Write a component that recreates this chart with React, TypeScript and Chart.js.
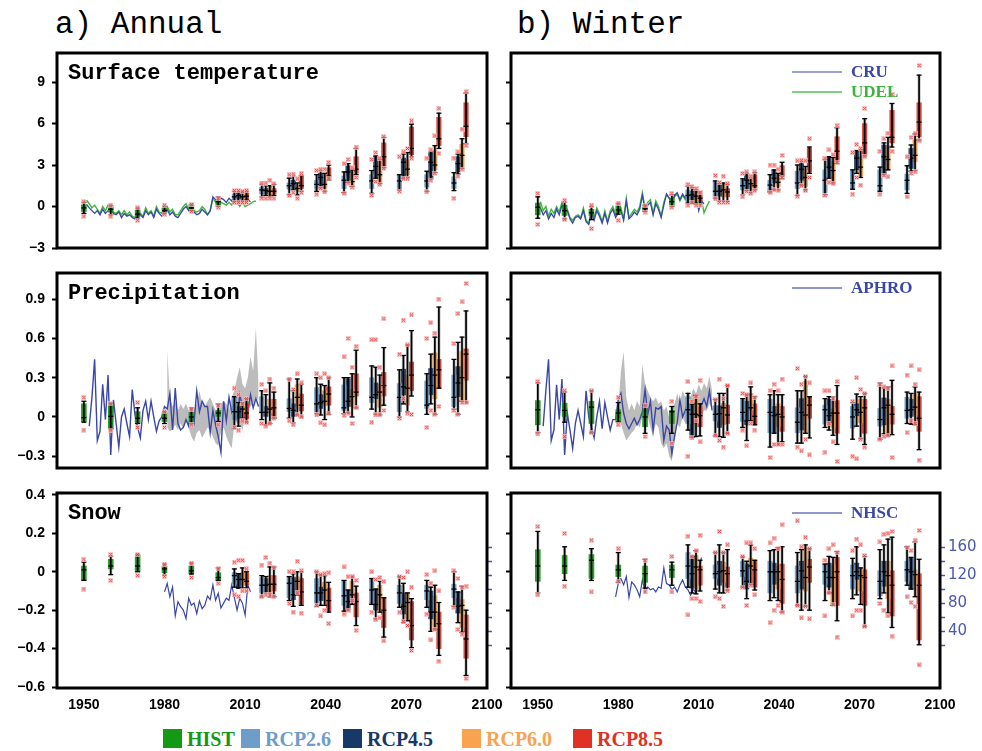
import React, { useEffect, useRef } from "react";
import { Chart, registerables } from "chart.js";

Chart.register(...registerables);

// ---------------- axes ----------------
const X_MIN = 1940;
const X_MAX = 2100;
const X_TICKS = [1950, 1980, 2010, 2040, 2070, 2100];
const X_LABELS = ["1950", "1980", "2010", "2040", "2070", "2100"];

const TEMP_RANGE = [-3, 11.1];
const TEMP_TICKS = [-3, 0, 3, 6, 9];
const TEMP_LABELS = ["\u22123", "0", "3", "6", "9"];
const PR_RANGE = [-0.39, 1.1];
const PR_TICKS = [-0.3, 0, 0.3, 0.6, 0.9];
const PR_LABELS = ["\u22120.3", "0", "0.3", "0.6", "0.9"];
const SNOW_RANGE = [-0.605, 0.41];
const SNOW_TICKS = [-0.6, -0.4, -0.2, 0, 0.2, 0.4];
const SNOW_LABELS = ["\u22120.6", "\u22120.4", "\u22120.2", "0", "0.2", "0.4"];
const NHSC_RANGE = [-41, 237];
const NHSC_TICKS = [20, 40, 60, 80, 100, 120, 140, 160];
const NHSC_LABELS = ["", "40", "", "80", "", "120", "", "160"];

// ---------------- series ----------------
const SERIES = ["HIST", "RCP2.6", "RCP4.5", "RCP6.0", "RCP8.5"];
const SERIES_COLORS = ["#139913", "#6f9dca", "#173968", "#f9a24f", "#df3225"];
const HIST_YEARS = [1950, 1960, 1970, 1980, 1990, 2000];
const RCP_YEARS = [2006, 2016.2, 2026.4, 2036.6, 2046.8, 2057.1, 2067.4, 2077.6, 2087.7];
const RCP_SHIFT = [0, 1.5, 3, 4.5];

// box = [low whisker, q1, median, q3, high whisker, low outlier, high outlier]
// ---- a) annual surface temperature
const TAS_ANN_HIST = [
  [-0.5, -0.36, -0.1, 0.12, 0.3, -0.7, 0.35],
  [-0.6, -0.4, -0.2, 0.0, 0.07, -0.7, 0.1],
  [-0.85, -0.72, -0.55, -0.25, -0.12, -1.0, -0.1],
  [-0.5, -0.45, -0.3, -0.1, 0.0, -0.55, 0.1],
  [-0.3, -0.2, -0.1, 0.1, 0.15, -0.35, 0.15],
  [0.0, 0.1, 0.35, 0.5, 0.7, -0.05, 0.6],
];
const TAS_ANN_26 = [
  [0.35, 0.5, 0.7, 0.9, 1.1, 0.3, 1.15],
  [0.7, 0.9, 1.2, 1.4, 1.6, 0.6, 1.7],
  [0.85, 1.25, 1.5, 1.7, 2.05, 0.8, 2.3],
  [1.1, 1.25, 1.6, 1.9, 2.3, 0.9, 2.6],
  [1.0, 1.3, 1.9, 2.2, 2.5, 0.95, 3.1],
  [0.95, 1.3, 1.85, 2.3, 2.6, 0.8, 3.4],
  [1.2, 1.3, 1.85, 2.25, 2.3, 1.1, 3.6],
  [1.1, 1.4, 1.85, 2.3, 2.55, 1.05, 3.5],
  [1.15, 1.3, 1.7, 2.15, 2.45, 0.6, 3.5],
];
const TAS_ANN_45 = [
  [0.4, 0.55, 0.8, 1.0, 1.1, 0.3, 1.15],
  [0.8, 0.9, 1.15, 1.3, 1.5, 0.6, 1.7],
  [1.2, 1.3, 1.65, 1.9, 2.2, 1.0, 2.35],
  [1.35, 1.45, 2.1, 2.4, 2.6, 1.3, 2.7],
  [1.75, 1.9, 2.5, 2.95, 3.1, 1.7, 3.4],
  [2.05, 2.1, 2.9, 3.6, 3.65, 1.8, 3.9],
  [2.05, 2.15, 3.2, 3.5, 3.8, 2.0, 3.95],
  [2.0, 2.1, 3.2, 3.85, 3.95, 1.9, 4.1],
  [2.35, 2.5, 3.1, 3.6, 3.8, 2.2, 3.95],
];
const TAS_ANN_60 = [
  [0.4, 0.5, 0.7, 0.95, 1.05, 0.3, 1.1],
  [0.7, 0.8, 1.1, 1.4, 1.5, 0.6, 1.9],
  [0.85, 1.1, 1.3, 1.5, 1.7, 0.6, 2.0],
  [1.1, 1.3, 1.6, 2.3, 2.4, 1.05, 2.7],
  [1.45, 1.45, 1.8, 2.45, 2.65, 1.4, 2.8],
  [1.65, 1.7, 2.3, 3.25, 3.4, 1.6, 3.5],
  [2.1, 2.3, 2.7, 3.4, 3.9, 2.0, 4.2],
  [2.45, 2.65, 3.0, 4.1, 4.4, 2.4, 5.1],
  [2.75, 2.85, 3.7, 4.5, 4.9, 2.7, 5.6],
];
const TAS_ANN_85 = [
  [0.45, 0.5, 0.75, 1.0, 1.1, 0.3, 1.15],
  [0.8, 0.9, 1.1, 1.3, 1.6, 0.6, 1.65],
  [1.1, 1.3, 1.5, 2.2, 2.25, 1.0, 2.4],
  [1.9, 1.95, 2.2, 2.8, 3.0, 2.0, 3.2],
  [2.3, 2.4, 2.7, 3.6, 4.2, 2.1, 4.3],
  [2.8, 2.9, 3.6, 4.6, 5.0, 2.75, 5.05],
  [3.6, 3.75, 4.2, 5.75, 5.95, 3.5, 6.2],
  [4.2, 4.4, 4.9, 6.45, 6.75, 3.85, 7.1],
  [4.55, 5.05, 5.8, 7.5, 8.2, 4.4, 8.3],
];
// ---- b) winter surface temperature
const TAS_DJF_HIST = [
  [-0.85, -0.6, -0.05, 0.25, 0.7, -1.3, 0.95],
  [-0.9, -0.65, -0.3, 0.1, 0.3, -0.95, 0.45],
  [-0.95, -0.65, -0.45, -0.2, 0.0, -1.6, 0.1],
  [-0.55, -0.45, -0.25, 0.05, 0.2, -1.0, 0.25],
  [-0.35, -0.25, -0.15, 0.0, 0.1, -0.4, 0.05],
  [0.0, 0.1, 0.35, 0.6, 0.85, -0.05, 0.95],
];
const TAS_DJF_26 = [
  [0.25, 0.35, 0.8, 1.2, 1.45, 0.1, 1.6],
  [0.6, 0.7, 1.1, 1.8, 1.85, 0.55, 2.25],
  [0.85, 1.2, 1.5, 1.9, 2.0, 0.7, 2.4],
  [1.05, 1.1, 1.55, 1.9, 2.3, 1.0, 3.0],
  [0.8, 1.3, 1.7, 2.55, 3.0, 0.75, 3.3],
  [0.85, 1.0, 1.9, 2.65, 3.4, 0.8, 3.5],
  [1.25, 1.25, 1.7, 2.6, 2.65, 0.9, 3.9],
  [1.1, 1.15, 1.5, 2.65, 2.85, 0.9, 4.0],
  [0.95, 1.2, 1.9, 2.35, 2.95, 0.7, 3.6],
];
const TAS_DJF_45 = [
  [0.25, 0.5, 0.85, 1.1, 1.35, 0.3, 1.45],
  [0.4, 0.75, 1.1, 1.55, 1.65, 0.3, 1.75],
  [1.15, 1.3, 1.9, 2.3, 2.4, 1.1, 2.5],
  [1.2, 1.7, 2.05, 2.6, 2.65, 1.2, 3.0],
  [1.55, 1.9, 2.7, 3.1, 3.25, 1.5, 3.35],
  [2.05, 2.1, 2.85, 3.55, 3.6, 1.75, 4.1],
  [2.4, 2.65, 3.5, 4.0, 4.05, 2.1, 4.5],
  [2.3, 2.35, 3.6, 4.45, 4.6, 2.25, 4.9],
  [2.55, 2.75, 3.5, 4.2, 4.45, 2.4, 5.0],
];
const TAS_DJF_60 = [
  [0.2, 0.35, 0.75, 1.1, 1.2, 0.1, 1.3],
  [0.4, 0.7, 1.2, 1.65, 1.7, 0.3, 2.2],
  [1.0, 1.25, 1.65, 2.0, 2.05, 0.95, 2.2],
  [1.2, 1.45, 1.75, 2.3, 2.4, 1.15, 2.7],
  [1.2, 1.45, 2.1, 2.65, 2.9, 1.15, 3.3],
  [1.7, 1.8, 2.6, 3.25, 3.55, 1.65, 3.75],
  [2.1, 2.2, 2.85, 3.6, 4.1, 1.55, 4.2],
  [2.65, 2.65, 3.4, 4.4, 5.0, 2.15, 5.3],
  [2.6, 3.25, 3.7, 4.85, 5.25, 2.5, 5.3],
];
const TAS_DJF_85 = [
  [0.2, 0.35, 0.6, 0.9, 1.05, 0.1, 1.0],
  [0.35, 0.7, 1.05, 1.3, 1.6, 0.3, 1.65],
  [1.2, 1.3, 1.5, 2.3, 2.45, 1.15, 2.5],
  [2.0, 2.15, 2.25, 2.95, 3.2, 2.1, 3.7],
  [2.4, 2.5, 3.3, 4.2, 4.3, 2.1, 4.9],
  [3.1, 3.25, 4.0, 5.05, 5.7, 3.2, 5.85],
  [3.65, 3.75, 4.6, 6.0, 6.35, 3.6, 7.1],
  [4.3, 4.6, 5.0, 6.95, 7.45, 4.0, 8.1],
  [4.8, 5.05, 6.1, 7.5, 9.5, 4.75, 10.2],
];
// ---- a) annual precipitation
const PR_ANN_HIST = [
  [-0.04, -0.035, -0.005, 0.1, 0.12, -0.1, 0.15],
  [-0.09, -0.09, 0.005, 0.105, 0.105, -0.1, 0.1],
  [-0.05, -0.05, -0.01, 0.04, 0.07, -0.08, 0.11],
  [-0.05, -0.035, -0.01, 0.03, 0.04, -0.08, 0.04],
  [-0.05, -0.05, 0.0, 0.035, 0.07, -0.06, 0.06],
  [-0.035, 0.0, 0.03, 0.05, 0.1, -0.06, 0.09],
];
const PR_ANN_26 = [
  [-0.09, -0.02, 0.04, 0.155, 0.155, -0.08, 0.22],
  [-0.02, 0.03, 0.035, 0.155, 0.2, -0.05, 0.25],
  [-0.01, 0.04, 0.065, 0.14, 0.29, -0.03, 0.29],
  [0.025, 0.04, 0.1, 0.225, 0.3, 0.015, 0.33],
  [0.025, 0.05, 0.07, 0.245, 0.3, 0.01, 0.46],
  [0.06, 0.11, 0.15, 0.3, 0.39, -0.04, 0.59],
  [0.0, 0.04, 0.15, 0.255, 0.36, -0.01, 0.48],
  [0.02, 0.065, 0.09, 0.275, 0.33, -0.08, 0.6],
  [0.06, 0.08, 0.15, 0.32, 0.44, 0.05, 0.56],
];
const PR_ANN_45 = [
  [-0.07, -0.01, 0.04, 0.08, 0.11, -0.1, 0.17],
  [-0.06, 0.0, 0.035, 0.08, 0.17, -0.07, 0.2],
  [-0.045, 0.0, 0.05, 0.1, 0.2, -0.06, 0.21],
  [0.015, 0.065, 0.11, 0.17, 0.25, -0.045, 0.3],
  [0.03, 0.08, 0.12, 0.29, 0.3, 0.03, 0.6],
  [0.02, 0.14, 0.17, 0.26, 0.38, 0.015, 0.59],
  [0.1, 0.17, 0.23, 0.365, 0.47, 0.14, 0.74],
  [0.1, 0.17, 0.24, 0.37, 0.48, 0.05, 0.72],
  [0.02, 0.155, 0.26, 0.385, 0.57, 0.02, 0.79],
];
const PR_ANN_60 = [
  [-0.01, 0.03, 0.06, 0.105, 0.11, -0.03, 0.1],
  [-0.05, 0.03, 0.06, 0.135, 0.26, -0.05, 0.29],
  [0.015, 0.08, 0.15, 0.245, 0.29, 0.015, 0.33],
  [-0.02, 0.09, 0.12, 0.2, 0.24, -0.06, 0.33],
  [0.0, 0.08, 0.155, 0.21, 0.33, -0.05, 0.38],
  [0.015, 0.075, 0.19, 0.25, 0.32, 0.015, 0.38],
  [0.04, 0.09, 0.22, 0.32, 0.55, 0.03, 0.55],
  [0.02, 0.14, 0.32, 0.49, 0.61, 0.02, 0.64],
  [0.12, 0.12, 0.3, 0.5, 0.61, 0.11, 0.88],
];
const PR_ANN_85 = [
  [-0.04, -0.015, 0.03, 0.105, 0.14, -0.04, 0.14],
  [-0.01, -0.01, 0.07, 0.135, 0.19, -0.01, 0.22],
  [0.0, 0.045, 0.09, 0.175, 0.25, 0.0, 0.26],
  [0.02, 0.09, 0.175, 0.23, 0.3, 0.03, 0.3],
  [0.07, 0.16, 0.19, 0.33, 0.51, 0.07, 0.54],
  [0.09, 0.16, 0.24, 0.34, 0.53, 0.05, 0.75],
  [0.16, 0.2, 0.32, 0.42, 0.66, 0.02, 0.78],
  [0.22, 0.22, 0.36, 0.44, 0.84, 0.08, 0.9],
  [0.11, 0.28, 0.48, 0.52, 0.81, 0.11, 1.02],
];
// ---- b) winter precipitation
const PR_DJF_HIST = [
  [-0.12, -0.06, 0.055, 0.125, 0.26, -0.13, 0.27],
  [-0.04, 0.0, 0.05, 0.105, 0.19, -0.15, 0.2],
  [-0.12, -0.05, 0.075, 0.12, 0.2, -0.12, 0.2],
  [-0.04, -0.035, 0.03, 0.055, 0.11, -0.06, 0.15],
  [-0.125, -0.075, 0.0, 0.055, 0.09, -0.15, 0.09],
  [-0.125, -0.05, 0.04, 0.05, 0.08, -0.2, 0.12],
];
const PR_DJF_26 = [
  [-0.1, -0.05, 0.055, 0.155, 0.18, -0.3, 0.27],
  [-0.145, -0.03, 0.02, 0.085, 0.135, -0.14, 0.13],
  [-0.08, -0.035, 0.035, 0.13, 0.14, -0.1, 0.18],
  [-0.23, -0.12, 0.035, 0.135, 0.17, -0.31, 0.2],
  [-0.2, -0.12, -0.04, 0.07, 0.2, -0.23, 0.37],
  [-0.08, -0.055, 0.055, 0.09, 0.14, -0.27, 0.2],
  [-0.17, -0.085, 0.0, 0.08, 0.11, -0.3, 0.12],
  [-0.17, -0.07, -0.02, 0.065, 0.26, -0.17, 0.25],
  [-0.05, -0.01, 0.05, 0.15, 0.19, -0.12, 0.32],
];
const PR_DJF_45 = [
  [-0.155, -0.155, 0.02, 0.1, 0.1, -0.16, 0.12],
  [-0.15, -0.08, 0.025, 0.085, 0.18, -0.18, 0.29],
  [-0.18, -0.06, -0.03, 0.12, 0.17, -0.22, 0.17],
  [-0.125, -0.12, 0.01, 0.08, 0.2, -0.21, 0.25],
  [-0.2, -0.1, 0.035, 0.14, 0.2, -0.26, 0.25],
  [-0.1, -0.045, 0.01, 0.135, 0.155, -0.05, 0.2],
  [-0.07, 0.01, 0.055, 0.1, 0.175, -0.32, 0.3],
  [-0.13, -0.06, 0.07, 0.145, 0.22, -0.15, 0.23],
  [-0.055, 0.0, 0.055, 0.135, 0.18, -0.03, 0.39],
];
const PR_DJF_60 = [
  [-0.15, -0.05, 0.02, 0.155, 0.165, -0.03, 0.16],
  [-0.155, -0.06, 0.07, 0.105, 0.18, -0.23, 0.14],
  [-0.03, 0.05, 0.07, 0.18, 0.23, -0.05, 0.26],
  [-0.21, -0.075, 0.02, 0.1, 0.17, -0.21, 0.2],
  [-0.125, -0.125, 0.015, 0.27, 0.31, -0.17, 0.31],
  [-0.14, -0.08, 0.03, 0.065, 0.155, -0.19, 0.14],
  [-0.165, -0.045, 0.035, 0.135, 0.155, -0.17, 0.21],
  [-0.145, -0.125, 0.09, 0.135, 0.23, -0.14, 0.22],
  [-0.06, 0.015, 0.075, 0.18, 0.23, -0.05, 0.25],
];
const PR_DJF_85 = [
  [-0.145, -0.075, 0.01, 0.08, 0.1, -0.19, 0.28],
  [-0.125, -0.05, 0.015, 0.09, 0.24, -0.125, 0.24],
  [-0.06, -0.06, 0.005, 0.1, 0.155, -0.1, 0.15],
  [-0.19, -0.11, 0.0, 0.08, 0.17, -0.21, 0.29],
  [-0.16, -0.01, 0.09, 0.155, 0.155, -0.29, 0.26],
  [-0.21, -0.125, 0.03, 0.125, 0.24, -0.34, 0.27],
  [-0.21, -0.125, 0.07, 0.135, 0.18, -0.23, 0.18],
  [-0.135, -0.055, 0.02, 0.08, 0.28, -0.31, 0.39],
  [-0.25, -0.11, -0.01, 0.155, 0.19, -0.33, 0.36],
];
// ---- a) annual snow
const SN_ANN_HIST = [
  [-0.045, -0.045, 0.01, 0.03, 0.05, -0.09, 0.065],
  [-0.015, 0.015, 0.03, 0.065, 0.08, -0.045, 0.09],
  [0.0, 0.0, 0.03, 0.085, 0.09, -0.02, 0.09],
  [-0.017, -0.005, 0.015, 0.03, 0.04, -0.025, 0.04],
  [-0.012, -0.01, 0.005, 0.03, 0.045, -0.03, 0.045],
  [-0.045, -0.045, -0.03, -0.005, 0.02, -0.06, 0.015],
];
const SN_ANN_26 = [
  [-0.08, -0.065, -0.02, -0.005, 0.015, -0.12, 0.05],
  [-0.13, -0.11, -0.07, -0.03, -0.02, -0.13, 0.035],
  [-0.15, -0.135, -0.06, -0.025, -0.025, -0.165, 0.0],
  [-0.18, -0.16, -0.11, -0.035, 0.0, -0.175, 0.0],
  [-0.205, -0.175, -0.125, -0.045, -0.045, -0.22, 0.025],
  [-0.17, -0.17, -0.095, -0.035, -0.035, -0.21, 0.0],
  [-0.185, -0.165, -0.11, -0.07, -0.025, -0.21, -0.025],
  [-0.185, -0.145, -0.1, -0.07, -0.045, -0.22, -0.015],
  [-0.18, -0.135, -0.09, -0.065, 0.0, -0.185, 0.005],
];
const SN_ANN_45 = [
  [-0.085, -0.085, -0.04, -0.01, -0.01, -0.13, 0.06],
  [-0.11, -0.105, -0.07, -0.035, -0.025, -0.12, 0.075],
  [-0.18, -0.145, -0.12, -0.03, -0.01, -0.21, 0.0],
  [-0.175, -0.15, -0.11, -0.08, -0.015, -0.23, -0.015],
  [-0.2, -0.195, -0.155, -0.095, -0.095, -0.2, -0.025],
  [-0.245, -0.2, -0.17, -0.09, -0.09, -0.25, -0.04],
  [-0.265, -0.22, -0.18, -0.11, -0.06, -0.26, -0.03],
  [-0.31, -0.245, -0.21, -0.1, -0.08, -0.355, -0.06],
  [-0.265, -0.215, -0.18, -0.105, -0.105, -0.3, -0.035],
];
const SN_ANN_60 = [
  [-0.085, -0.07, -0.04, -0.005, 0.02, -0.1, 0.06],
  [-0.13, -0.115, -0.065, -0.02, 0.025, -0.12, 0.045],
  [-0.12, -0.1, -0.05, -0.025, 0.0, -0.11, 0.055],
  [-0.175, -0.15, -0.095, -0.055, -0.02, -0.2, -0.01],
  [-0.17, -0.12, -0.12, -0.05, -0.025, -0.15, -0.025],
  [-0.21, -0.2, -0.12, -0.07, -0.05, -0.24, -0.03],
  [-0.255, -0.245, -0.16, -0.11, -0.11, -0.28, 0.0],
  [-0.3, -0.3, -0.21, -0.125, -0.07, -0.3, 0.005],
  [-0.315, -0.29, -0.175, -0.145, -0.075, -0.325, -0.08],
];
const SN_ANN_85 = [
  [-0.085, -0.07, -0.05, -0.005, 0.0, -0.1, 0.015],
  [-0.13, -0.1, -0.065, -0.02, 0.025, -0.13, 0.02],
  [-0.175, -0.17, -0.105, -0.035, 0.0, -0.215, 0.005],
  [-0.21, -0.205, -0.15, -0.085, -0.055, -0.27, -0.005],
  [-0.28, -0.235, -0.155, -0.11, -0.075, -0.305, -0.045],
  [-0.34, -0.29, -0.2, -0.135, -0.135, -0.36, -0.05],
  [-0.395, -0.355, -0.28, -0.155, -0.14, -0.41, -0.08],
  [-0.435, -0.4, -0.27, -0.21, -0.16, -0.465, -0.1],
  [-0.54, -0.45, -0.35, -0.225, -0.2, -0.555, -0.075],
];
// ---- b) winter snow
const SN_DJF_HIST = [
  [-0.11, -0.05, 0.03, 0.115, 0.21, -0.12, 0.235],
  [-0.045, -0.01, 0.03, 0.085, 0.13, -0.075, 0.2],
  [-0.045, -0.035, 0.06, 0.09, 0.12, -0.105, 0.165],
  [-0.055, -0.025, 0.01, 0.035, 0.1, -0.05, 0.12],
  [-0.085, -0.055, -0.01, 0.03, 0.065, -0.105, 0.06],
  [-0.07, -0.03, 0.01, 0.035, 0.05, -0.105, 0.08],
];
const SN_DJF_26 = [
  [-0.08, -0.035, 0.03, 0.1, 0.14, -0.225, 0.185],
  [-0.09, -0.035, -0.01, 0.035, 0.1, -0.13, 0.1],
  [-0.08, -0.025, 0.005, 0.055, 0.078, -0.08, 0.08],
  [-0.15, -0.11, 0.0, 0.055, 0.11, -0.265, 0.15],
  [-0.175, -0.11, -0.05, 0.03, 0.1, -0.175, 0.265],
  [-0.15, -0.065, 0.0, 0.04, 0.04, -0.23, 0.06],
  [-0.14, -0.09, -0.02, 0.035, 0.07, -0.23, 0.11],
  [-0.14, -0.125, -0.05, 0.005, 0.115, -0.165, 0.155],
  [-0.07, -0.05, 0.01, 0.055, 0.13, -0.13, 0.125],
];
const SN_DJF_45 = [
  [-0.11, -0.085, -0.01, 0.08, 0.08, -0.14, 0.08],
  [-0.11, -0.07, 0.0, 0.055, 0.14, -0.14, 0.21],
  [-0.14, -0.09, -0.05, 0.04, 0.055, -0.175, 0.15],
  [-0.135, -0.065, 0.0, 0.045, 0.115, -0.2, 0.175],
  [-0.2, -0.09, 0.005, 0.055, 0.115, -0.24, 0.13],
  [-0.11, -0.08, -0.03, 0.045, 0.08, -0.11, 0.12],
  [-0.12, -0.04, 0.0, 0.045, 0.13, -0.2, 0.17],
  [-0.11, -0.075, 0.0, 0.055, 0.14, -0.2, 0.195],
  [-0.09, -0.09, 0.0, 0.07, 0.075, -0.16, 0.11],
];
const SN_DJF_60 = [
  [-0.115, -0.09, 0.025, 0.085, 0.11, -0.14, 0.11],
  [-0.11, -0.055, 0.005, 0.05, 0.1, -0.18, 0.1],
  [-0.065, 0.015, 0.03, 0.07, 0.14, -0.07, 0.15],
  [-0.15, -0.09, 0.0, 0.03, 0.125, -0.175, 0.12],
  [-0.18, -0.1, -0.03, 0.13, 0.14, -0.18, 0.18],
  [-0.175, -0.175, -0.03, 0.035, 0.075, -0.17, 0.14],
  [-0.17, -0.1, -0.02, 0.02, 0.02, -0.2, 0.14],
  [-0.215, -0.14, -0.02, 0.055, 0.17, -0.23, 0.2],
  [-0.13, -0.07, -0.015, 0.01, 0.155, -0.18, 0.165],
];
const SN_DJF_85 = [
  [-0.1, -0.07, 0.01, 0.03, 0.06, -0.155, 0.19],
  [-0.095, -0.08, -0.01, 0.025, 0.115, -0.1, 0.14],
  [-0.095, -0.08, 0.01, 0.06, 0.06, -0.12, 0.12],
  [-0.21, -0.165, -0.04, 0.04, 0.13, -0.21, 0.245],
  [-0.2, -0.055, 0.025, 0.065, 0.12, -0.245, 0.12],
  [-0.255, -0.175, 0.0, 0.075, 0.105, -0.34, 0.1],
  [-0.285, -0.175, -0.03, 0.01, 0.08, -0.285, 0.085],
  [-0.29, -0.23, -0.07, 0.005, 0.18, -0.335, 0.21],
  [-0.38, -0.355, -0.07, -0.01, 0.065, -0.485, 0.215],
];

// ---------------- observations (yearly) ----------------
const CRU_ANN_START = 1951;
const CRU_ANN = [
  0.15, -0.1, -0.3, -0.5, -0.3, -0.6, -0.2, -0.5, -0.3, -0.2,
  -0.5, -0.6, -0.4, -0.8, -0.5, -0.7, -0.6, -0.8, -0.9, -0.7,
  -0.6, -0.8, -0.3, -0.6, -0.4, -0.8, -0.2, -0.5, -0.7, -0.3,
  -0.2, -0.6, -0.4, -0.7, -0.8, -0.5, -0.2, 0.0, -0.3, -0.1,
  -0.4, -0.6, -0.5, -0.2, -0.4, -0.6, -0.3, 0.7, 0.5, 0.3,
  0.6, 0.5, 0.3, 0.6, 0.4, 0.8, 0.6, 0.3, 0.6, 0.3,
  0.5, 0.35,
];
const UDEL_ANN_START = 1951;
const UDEL_ANN = [
  0.45, 0.2, -0.1, 0.1, -0.2, -0.5, 0.0, -0.3, 0.1, -0.2,
  -0.4, -0.5, -0.3, -0.6, -0.3, -0.6, -0.4, -0.7, -0.8, -0.6,
  -0.5, -0.7, -0.1, -0.5, -0.3, -0.7, 0.0, -0.4, -0.5, -0.2,
  0.0, -0.4, -0.2, -0.6, -0.6, -0.3, 0.0, 0.2, -0.2, 0.1,
  -0.3, -0.4, -0.3, 0.0, -0.2, -0.6, -0.3, 0.6, 0.3, 0.1,
  0.3, 0.2, 0.1, 0.3, 0.1, 0.5, 0.3, 0.0, 0.3, 0.0,
  0.1, 0.2, 0.35, 0.4,
];
const CRU_DJF_START = 1951;
const CRU_DJF = [
  -0.1, -0.6, -0.3, -0.9, -0.5, -0.8, -0.2, -0.6, 0.1, -0.4,
  -0.3, -0.9, -1.2, -0.8, -0.7, -0.9, -0.3, -1.1, -1.3, -0.4,
  -1.0, -0.3, -0.7, -1.2, -0.5, -1.2, -0.5, -0.2, -0.8, -0.5,
  -0.3, -1.0, 0.4, -0.9, -0.7, -0.4, -0.6, -0.2, 0.8, -0.3,
  0.1, 0.3, -0.6, 0.2, -0.2, -0.8, 0.1, 0.9, 0.6, 0.3,
  0.8, 1.0, 0.5, 0.9, 0.6, 1.1, 0.7, 0.3, 0.9, -0.3,
  0.4, 0.2,
];
const UDEL_DJF_START = 1951;
const UDEL_DJF = [
  0.35, -0.3, 0.0, -0.7, -0.2, -0.5, 0.0, -0.4, 0.3, -0.3,
  -0.2, -0.8, -1.0, -0.7, -0.6, -0.8, -0.1, -1.0, -1.2, -0.3,
  -0.8, -0.1, -0.5, -1.1, -0.3, -1.1, -0.3, 0.0, -0.6, -0.3,
  -0.1, -0.9, 0.6, -0.8, -0.5, -0.2, -0.4, 0.0, 1.0, -0.1,
  0.3, 0.5, -0.5, 0.4, 0.0, -0.7, 0.3, 0.9, 0.6, 0.4,
  0.7, 0.9, 0.4, 0.8, 0.5, 1.0, 0.6, 0.2, 0.75, 0.2,
  0.5, -0.46, 0.0, 0.39,
];
const APHRO_ANN_START = 1952;
const APHRO_ANN = [
  -0.07, 0.15, 0.44, -0.18, -0.11, 0.25, -0.02, 0.32, -0.29, 0.13,
  -0.05, -0.23, 0.0, 0.06, -0.05, -0.15, 0.21, 0.02, -0.08, -0.16,
  0.05, 0.12, -0.02, 0.12, 0.0, -0.11, -0.03, 0.0, 0.08, 0.06,
  0.18, -0.1, 0.22, -0.05, -0.1, -0.08, -0.02, -0.07, 0.05, -0.04,
  0.2, 0.04, 0.12, 0.08, 0.08, -0.12, 0.05, -0.06, -0.15, -0.27,
  0.12, -0.03, 0.15, 0.04, 0.12, -0.02, 0.17, 0.08, 0.1, 0.04,
  0.17, 0.07, 0.14, 0.08,
];
const BAND_ANN_START = 1981;
const BAND_ANN_HIGH = [
  0.51, 0.15, 0.08, 0.12, 0.05, 0.1, 0.06, 0.1, 0.05, 0.08,
  0.06, 0.1, 0.2, 0.1, 0.08, 0.12, 0.15, 0.1, 0.05, 0.02,
  0.1, 0.12, 0.1, 0.05, 0.15, 0.2, 0.3, 0.38, 0.25, 0.22,
  0.3, 0.46, 0.35, 0.68, 0.25,
];
const BAND_ANN_LOW = [
  -0.08, -0.11, -0.1, -0.06, -0.1, -0.05, -0.09, -0.03, -0.08, -0.15,
  -0.19, -0.12, -0.1, -0.16, -0.12, -0.08, -0.1, -0.15, -0.2, -0.22,
  -0.12, -0.08, -0.15, -0.2, -0.24, -0.05, 0.0, -0.05, -0.1, 0.0,
  0.05, 0.08, 0.1, 0.15, 0.12,
];
const APHRO_DJF_START = 1952;
const APHRO_DJF = [
  -0.07, 0.2, 0.44, -0.18, -0.1, 0.245, -0.02, 0.29, -0.29, 0.03,
  -0.1, -0.24, -0.05, 0.05, -0.05, -0.15, 0.2, 0.0, -0.08, -0.16,
  0.0, 0.12, -0.09, 0.11, 0.0, -0.1, -0.02, -0.02, 0.13, 0.18,
  0.03, -0.05, -0.09, -0.05, -0.01, -0.06, -0.02, 0.04, 0.21, 0.02,
  0.12, -0.1, 0.07, 0.06, 0.08, -0.18, -0.07, -0.1, -0.28, -0.15,
  -0.04, 0.13, 0.0, 0.05, 0.12, 0.05, 0.08, 0.03, 0.06, 0.09,
  0.14, 0.08, 0.2, 0.05,
];
const BAND_DJF_START = 1980;
const BAND_DJF_HIGH = [
  0.08, 0.35, 0.5, 0.15, 0.05, 0.1, 0.05, 0.12, 0.08, 0.4,
  0.25, 0.2, 0.15, 0.12, 0.15, 0.1, 0.12, 0.05, 0.08, 0.0,
  0.05, 0.1, 0.18, 0.1, 0.2, 0.15, 0.2, 0.15, 0.22, 0.18,
  0.25, 0.2, 0.26, 0.22, 0.31, 0.2,
];
const BAND_DJF_LOW = [
  -0.02, -0.05, -0.12, -0.18, -0.15, -0.12, -0.1, -0.05, -0.08, 0.0,
  -0.05, 0.0, -0.08, -0.15, -0.05, -0.08, -0.2, -0.24, -0.2, -0.3,
  -0.34, -0.15, -0.05, -0.08, 0.0, -0.05, 0.0, -0.02, 0.0, -0.02,
  0.02, 0.0, 0.05, 0.05, 0.1, 0.05,
];
const NHSC_ANN_START = 1980;
const NHSC_ANN = [
  96, 108, 89, 103, 62, 82, 75, 70, 58, 87,
  77, 80, 65, 83, 72, 77, 90, 85, 106, 84,
  94, 73, 80, 87, 84, 106, 88, 70, 87, 80,
  63, 106, 96,
];
const NHSC_DJF_START = 1979;
const NHSC_DJF = [
  89, 108, 115, 106, 118, 88, 110, 106, 99, 89,
  113, 96, 103, 99, 101, 96, 103, 101, 130, 108,
  106, 99, 103, 96, 106, 113, 103, 99, 91, 100,
  95, 113, 145,
];

// ---------------- style ----------------
const OBS_BLUE = "#3a47a6";
const OBS_GREEN = "#3fb63f";
const BAND_GRAY = "rgba(165,165,165,0.75)";
const TICK_FONT = { family: '"Liberation Sans", Arial, sans-serif', size: 14, weight: "bold" as const };
const X_FONT = { family: '"Liberation Sans", Arial, sans-serif', size: 14, weight: "bold" as const };
const Y2_FONT = { family: '"DejaVu Sans", sans-serif', size: 15 };
const Y2_COLOR = "#4a58ae";

const COLS = [
  { left: 0, w: 520, axisW: 57, rightW: 33 },
  { left: 490, w: 492, axisW: 21, rightW: 42 },
];
const ROWS = [
  { top: 45, h: 210 },
  { top: 265, h: 210 },
  { top: 485, h: 240 },
];
const LEGEND_SQ_X = [163, 241, 343, 462, 573];

type Box = number[];
type Line = { start: number; values: number[]; color: string; width: number; y2?: boolean };
type Spec = {
  key: string;
  col: number;
  row: number;
  range: number[];
  ticks: number[];
  labels: string[];
  title?: string;
  legend?: { label: string; color: string; line: string; lw: number; dy: number }[];
  boxes: Box[][];
  lines: Line[];
  band?: { start: number; high: number[]; low: number[] };
};

const PANELS: Spec[] = [
  {
    key: "a1", col: 0, row: 0, range: TEMP_RANGE, ticks: TEMP_TICKS, labels: TEMP_LABELS,
    title: "Surface temperature",
    boxes: [TAS_ANN_HIST, TAS_ANN_26, TAS_ANN_45, TAS_ANN_60, TAS_ANN_85],
    lines: [
      { start: CRU_ANN_START, values: CRU_ANN, color: OBS_BLUE, width: 1.3 },
      { start: UDEL_ANN_START, values: UDEL_ANN, color: OBS_GREEN, width: 1.4 },
    ],
  },
  {
    key: "b1", col: 1, row: 0, range: TEMP_RANGE, ticks: TEMP_TICKS, labels: TEMP_LABELS,
    legend: [
      { label: "CRU", color: "#3a47a6", line: OBS_BLUE, lw: 1.2, dy: 19 },
      { label: "UDEL", color: "#3cb43c", line: "#7fd07f", lw: 2, dy: 39 },
    ],
    boxes: [TAS_DJF_HIST, TAS_DJF_26, TAS_DJF_45, TAS_DJF_60, TAS_DJF_85],
    lines: [
      { start: CRU_DJF_START, values: CRU_DJF, color: OBS_BLUE, width: 1.3 },
      { start: UDEL_DJF_START, values: UDEL_DJF, color: OBS_GREEN, width: 1.4 },
    ],
  },
  {
    key: "a2", col: 0, row: 1, range: PR_RANGE, ticks: PR_TICKS, labels: PR_LABELS,
    title: "Precipitation",
    boxes: [PR_ANN_HIST, PR_ANN_26, PR_ANN_45, PR_ANN_60, PR_ANN_85],
    lines: [{ start: APHRO_ANN_START, values: APHRO_ANN, color: OBS_BLUE, width: 1.4 }],
    band: { start: BAND_ANN_START, high: BAND_ANN_HIGH, low: BAND_ANN_LOW },
  },
  {
    key: "b2", col: 1, row: 1, range: PR_RANGE, ticks: PR_TICKS, labels: PR_LABELS,
    legend: [{ label: "APHRO", color: "#3a47a6", line: "#8f98cc", lw: 2, dy: 15 }],
    boxes: [PR_DJF_HIST, PR_DJF_26, PR_DJF_45, PR_DJF_60, PR_DJF_85],
    lines: [{ start: APHRO_DJF_START, values: APHRO_DJF, color: OBS_BLUE, width: 1.4 }],
    band: { start: BAND_DJF_START, high: BAND_DJF_HIGH, low: BAND_DJF_LOW },
  },
  {
    key: "a3", col: 0, row: 2, range: SNOW_RANGE, ticks: SNOW_TICKS, labels: SNOW_LABELS,
    title: "Snow",
    boxes: [SN_ANN_HIST, SN_ANN_26, SN_ANN_45, SN_ANN_60, SN_ANN_85],
    lines: [{ start: NHSC_ANN_START, values: NHSC_ANN, color: OBS_BLUE, width: 1.2, y2: true }],
  },
  {
    key: "b3", col: 1, row: 2, range: SNOW_RANGE, ticks: SNOW_TICKS, labels: SNOW_LABELS,
    legend: [{ label: "NHSC", color: "#3a47a6", line: "#8f98cc", lw: 2, dy: 20 }],
    boxes: [SN_DJF_HIST, SN_DJF_26, SN_DJF_45, SN_DJF_60, SN_DJF_85],
    lines: [{ start: NHSC_DJF_START, values: NHSC_DJF, color: OBS_BLUE, width: 1.2, y2: true }],
  },
];

function makeMarker(): HTMLCanvasElement {
  const c = document.createElement("canvas");
  c.width = 5;
  c.height = 5;
  const g = c.getContext("2d")!;
  g.fillStyle = "rgba(250,185,185,0.75)";
  g.fillRect(0, 0, 5, 5);
  g.strokeStyle = "#e63a3a";
  g.lineWidth = 1;
  g.beginPath();
  g.moveTo(1, 1);
  g.lineTo(4, 4);
  g.moveTo(4, 1);
  g.lineTo(1, 4);
  g.stroke();
  return c;
}

function alpha(hex: string, a: number) {
  const n = parseInt(hex.slice(1), 16);
  return `rgba(${(n >> 16) & 255},${(n >> 8) & 255},${n & 255},${a})`;
}

function boxSets(xs: number[], boxes: Box[], color: string, width: number, marker: HTMLCanvasElement) {
  const at = (k: number) => boxes.map((b, i) => ({ x: xs[i], y: b[k] }));
  const range = boxes.map((b, i) => ({ x: xs[i], y: [b[0], b[4]] }));
  return [
    { type: "bar", data: boxes.map((b, i) => ({ x: xs[i], y: [b[1], b[3]] })), backgroundColor: alpha(color, 0.9), barThickness: width, grouped: false, order: 6 },
    { type: "bar", data: range, backgroundColor: "rgba(80,80,80,0.35)", barThickness: 2.5, grouped: false, order: 5 },
    { type: "bar", data: range, backgroundColor: "#000", barThickness: 1, grouped: false, order: 4 },
    { type: "scatter", data: [...at(0), ...at(4)], pointStyle: "line", pointRadius: 2.5, pointBorderColor: "#000", pointBorderWidth: 1.3, order: 3 },
    { type: "scatter", data: at(2), pointStyle: "line", pointRadius: 2.5, pointBorderColor: "#000", pointBorderWidth: 1.3, order: 2 },
    { type: "scatter", data: [...at(5), ...at(6)], pointStyle: marker, pointRadius: 2.5, order: 1 },
  ];
}

function decorPlugin(spec: Spec) {
  return {
    id: "decor_" + spec.key,
    afterDraw(chart: any) {
      const { ctx, chartArea: a } = chart;
      ctx.save();
      ctx.strokeStyle = "#000";
      ctx.lineWidth = 3;
      ctx.strokeRect(a.left, a.top, a.right - a.left, a.bottom - a.top);
      if (spec.title) {
        ctx.fillStyle = "#000";
        ctx.font = 'bold 22px "Liberation Mono", monospace';
        ctx.textBaseline = "alphabetic";
        ctx.fillText(spec.title, a.left + 11, a.top + 26);
      }
      (spec.legend || []).forEach((it) => {
        const y = a.top + it.dy;
        ctx.strokeStyle = it.line;
        ctx.lineWidth = it.lw;
        ctx.beginPath();
        ctx.moveTo(a.left + 281, y);
        ctx.lineTo(a.left + 331, y);
        ctx.stroke();
        ctx.fillStyle = it.color;
        ctx.font = 'bold 17px "Liberation Serif", serif';
        ctx.textBaseline = "middle";
        ctx.fillText(it.label, a.left + 340, y + 1);
      });
      ctx.restore();
    },
  };
}

function buildConfig(spec: Spec): any {
  const marker = makeMarker();
  const col = COLS[spec.col];
  const bottom = spec.row === 2;
  const datasets: any[] = [];
  if (spec.band) {
    const b = spec.band;
    datasets.push({ type: "line", data: b.high.map((v, i) => ({ x: b.start + i, y: v })), borderWidth: 0, pointRadius: 0, fill: false, order: 10 });
    datasets.push({ type: "line", data: b.low.map((v, i) => ({ x: b.start + i, y: v })), borderWidth: 0, pointRadius: 0, fill: "-1", backgroundColor: BAND_GRAY, order: 10 });
  }
  spec.lines.forEach((l) => {
    datasets.push({
      type: "line",
      data: l.values.map((v, i) => ({ x: l.start + i, y: v })),
      borderColor: l.color,
      borderWidth: l.width,
      pointRadius: 0,
      fill: false,
      tension: 0,
      order: 9,
      yAxisID: l.y2 ? "y2" : "y",
    });
  });
  spec.boxes.forEach((boxes, s) => {
    const xs = s === 0 ? HIST_YEARS : RCP_YEARS.map((g) => g + RCP_SHIFT[s - 1]);
    datasets.push(...boxSets(xs, boxes, SERIES_COLORS[s], s === 0 ? 5 : 4.5, marker));
  });

  const scales: any = {
    x: {
      type: "linear",
      min: X_MIN,
      max: X_MAX,
      display: bottom,
      offset: false,
      grid: { display: false, drawTicks: false, offset: false },
      border: { display: false },
      ticks: { font: X_FONT, color: "#000", padding: 9, autoSkip: false, maxRotation: 0, callback: (_v: any, i: number) => X_LABELS[i] },
      afterBuildTicks: (ax: any) => { ax.ticks = X_TICKS.map((value) => ({ value })); },
      afterFit: (ax: any) => { if (bottom) ax.height = 30; ax.paddingLeft = 0; ax.paddingRight = 0; },
    },
    y: {
      type: "linear",
      position: "left",
      min: spec.range[0],
      max: spec.range[1],
      bounds: "data",
      grid: { display: true, drawOnChartArea: false, drawTicks: true, tickLength: 5, tickWidth: 2, tickColor: "#000" },
      border: { display: false },
      ticks: { display: spec.col === 0, font: TICK_FONT, color: "#000", padding: 7, autoSkip: false, callback: (_v: any, i: number) => spec.labels[i] },
      afterBuildTicks: (ax: any) => { ax.ticks = spec.ticks.map((value) => ({ value })); },
      afterFit: (ax: any) => { ax.width = col.axisW; ax.paddingTop = 0; ax.paddingBottom = 0; },
    },
  };
  if (bottom) {
    scales.y2 = {
      type: "linear",
      position: "right",
      min: NHSC_RANGE[0],
      max: NHSC_RANGE[1],
      bounds: "data",
      grid: { display: true, drawOnChartArea: false, drawTicks: true, tickLength: 5, tickWidth: 1.5, tickColor: Y2_COLOR },
      border: { display: false },
      ticks: { display: spec.col === 1, font: Y2_FONT, color: Y2_COLOR, padding: 3, autoSkip: false, callback: (_v: any, i: number) => NHSC_LABELS[i] },
      afterBuildTicks: (ax: any) => { ax.ticks = NHSC_TICKS.map((value) => ({ value })); },
      afterFit: (ax: any) => { ax.width = col.rightW; ax.paddingTop = 0; ax.paddingBottom = 0; },
    };
  }

  return {
    type: "scatter",
    data: { datasets },
    options: {
      animation: false,
      responsive: false,
      maintainAspectRatio: false,
      events: [],
      layout: {
        autoPadding: false,
        padding: { top: 8, bottom: 7, left: 0, right: bottom ? 0 : col.rightW },
      },
      plugins: { legend: { display: false }, tooltip: { enabled: false }, title: { display: false } },
      scales,
    },
    plugins: [decorPlugin(spec)],
  };
}

function Panel({ spec }: { spec: Spec }) {
  const ref = useRef<HTMLCanvasElement>(null);
  const col = COLS[spec.col];
  const row = ROWS[spec.row];
  useEffect(() => {
    const chart = new Chart(ref.current!, buildConfig(spec));
    return () => chart.destroy();
  }, [spec]);
  return (
    <canvas
      ref={ref}
      width={col.w}
      height={row.h}
      style={{ position: "absolute", left: col.left, top: row.top, width: col.w, height: row.h }}
    />
  );
}

export default function App() {
  return (
    <div style={{ position: "absolute", left: 0, top: 0, width: 982, height: 751, background: "#fff", overflow: "hidden" }}>
      <div style={{ position: "absolute", left: 55, top: 9, font: '31px/31px "Liberation Mono", monospace', color: "#000", whiteSpace: "pre" }}>a) Annual</div>
      <div style={{ position: "absolute", left: 517, top: 9, font: '31px/31px "Liberation Mono", monospace', color: "#000", whiteSpace: "pre" }}>b) Winter</div>
      {PANELS.map((p) => (
        <Panel key={p.key} spec={p} />
      ))}
      {SERIES.map((name, i) => (
        <React.Fragment key={name}>
          <div style={{ position: "absolute", left: LEGEND_SQ_X[i], top: 729, width: 19, height: 19, background: SERIES_COLORS[i] }} />
          <div style={{ position: "absolute", left: LEGEND_SQ_X[i] + 24, top: 729, font: 'bold 20px/20px "Liberation Serif", serif', color: SERIES_COLORS[i], whiteSpace: "pre" }}>{name}</div>
        </React.Fragment>
      ))}
    </div>
  );
}
